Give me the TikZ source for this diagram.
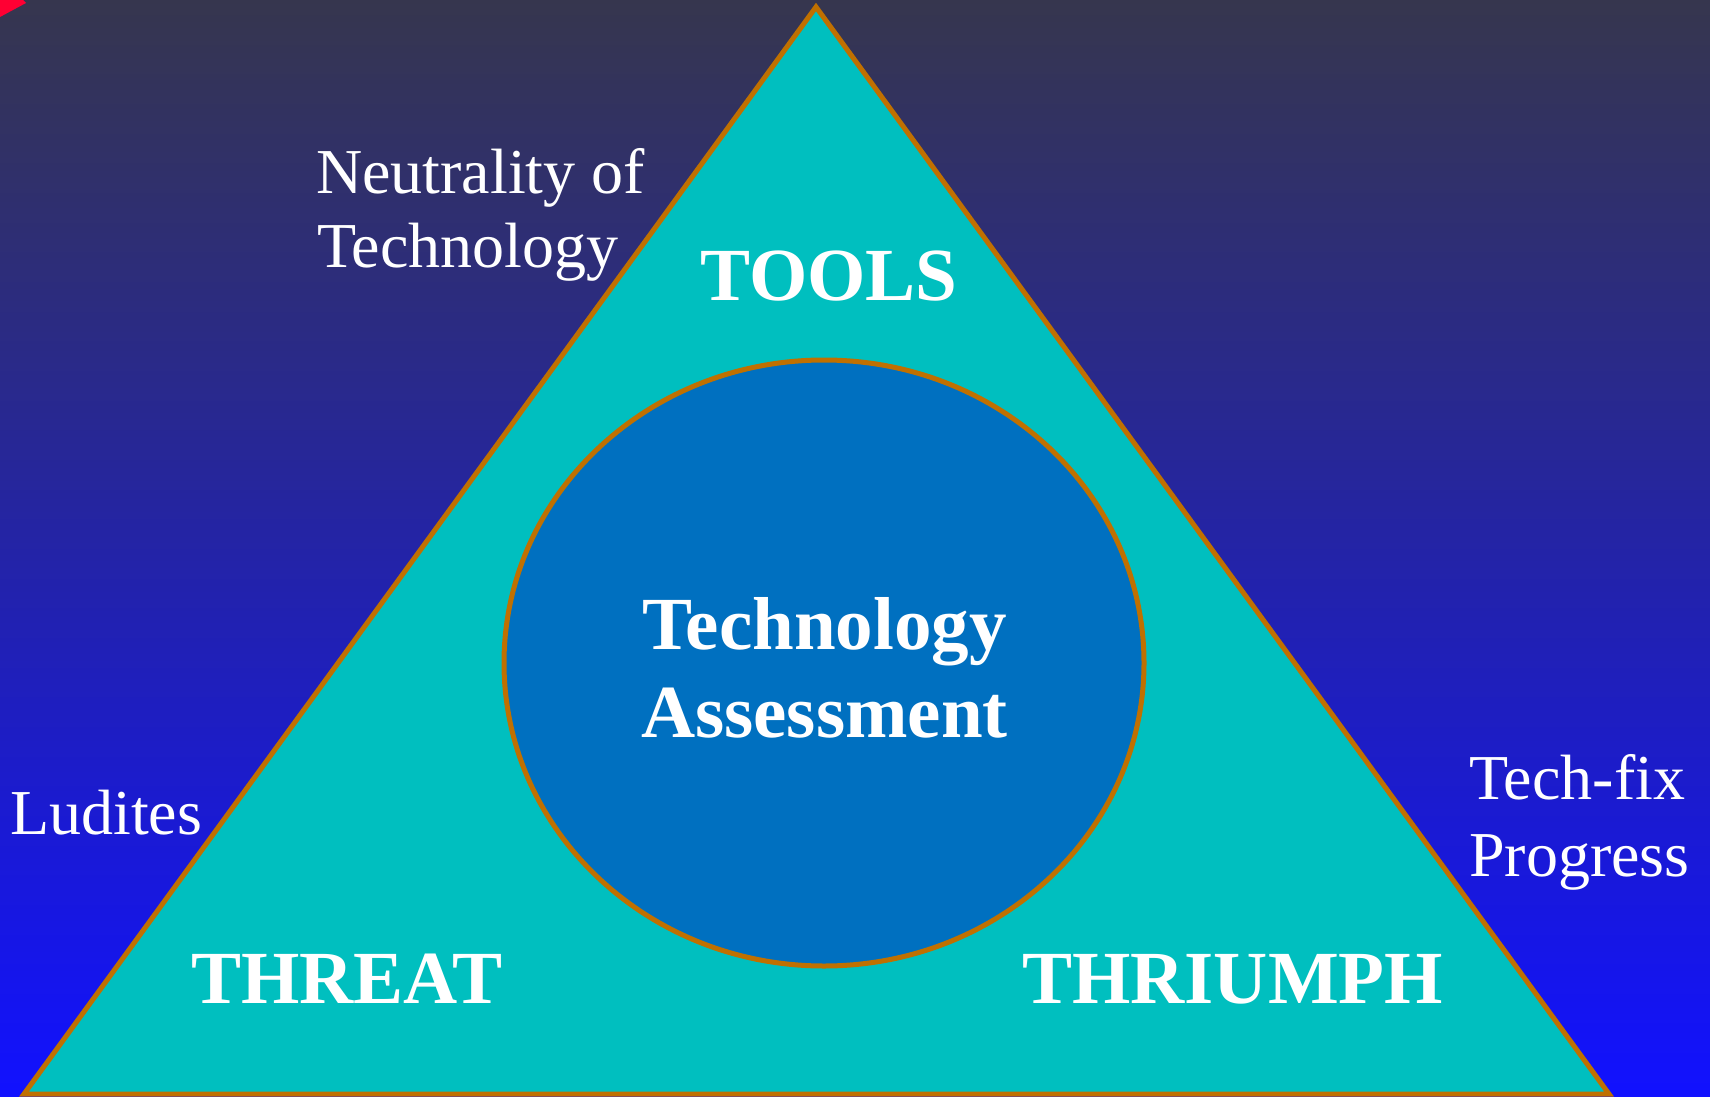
\documentclass[tikz,border=0pt]{standalone}
\usepackage{fontspec}
\setmainfont{Liberation Serif}
\usetikzlibrary{shapes.geometric}
\definecolor{bgtop}{RGB}{54,54,78}
\definecolor{bgbot}{RGB}{17,17,255}
\definecolor{tricol}{RGB}{0,191,191}
\definecolor{ellcol}{RGB}{0,112,192}
\definecolor{edgecol}{RGB}{192,112,0}
\definecolor{redcol}{RGB}{255,0,51}
\tikzset{
  bigbold/.style={text=white, inner sep=0pt, font=\fontsize{75}{80}\selectfont\bfseries},
  plainlbl/.style={text=white, inner sep=0pt, font=\fontsize{64}{70}\selectfont},
}
\begin{document}
\begin{tikzpicture}[x=1pt,y=-1pt]
\useasboundingbox (0,0) rectangle (1710,1097);
\shade[top color=bgtop, bottom color=bgbot] (0,0) rectangle (1710,1097);
\fill[redcol] (0,0) -- (23,0) -- (26,3) -- (0,17) -- cycle;
\coordinate (apex) at (816,7);
\coordinate (bl) at (24,1094);
\coordinate (br) at (1609,1094);
\filldraw[fill=tricol, draw=edgecol, line width=5pt, line join=miter] (apex) -- (br) -- (bl) -- cycle;
\node[draw=edgecol, fill=ellcol, line width=5pt, ellipse, minimum width=640pt, minimum height=606pt, inner sep=0pt] (ta) at (824,663) {};
\node[bigbold, anchor=base] (tech) at (824.5,649) {Technology};
\node[bigbold, anchor=base] (assess) at (824.5,737) {Assessment};
\node[bigbold, anchor=base] (tools) at (829,300) {TOOLS};
\node[bigbold, anchor=base west] (threat) at (191,1003) {THREAT};
\node[bigbold, anchor=base west] (thriumph) at (1022,1003) {THRIUMPH};
\node[plainlbl, anchor=base west] (neut1) at (316,193) {Neutrality of};
\node[plainlbl, anchor=base west] (neut2) at (317,267) {Technology};
\node[plainlbl, anchor=base west] (lud) at (10,834) {Ludites};
\node[plainlbl, anchor=base west] (fix1) at (1469,799) {Tech-fix};
\node[plainlbl, anchor=base west] (fix2) at (1469,876) {Progress};
\end{tikzpicture}
\end{document}
